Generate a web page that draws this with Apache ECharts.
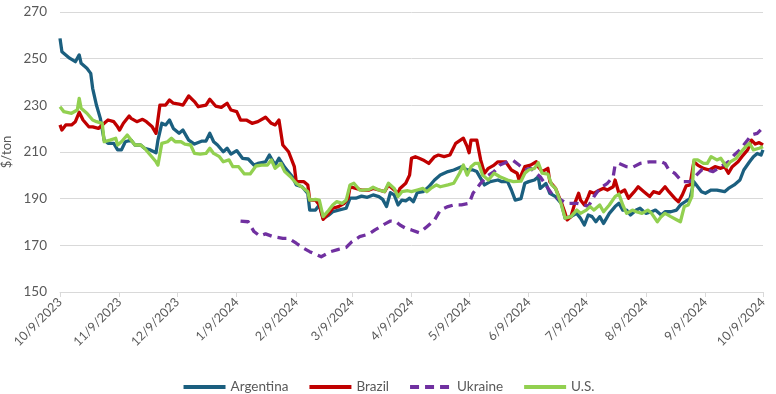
<!DOCTYPE html>
<html>
<head>
<meta charset="utf-8">
<script src="https://cdn.jsdelivr.net/npm/echarts@6/dist/echarts.min.js"></script>
<style>
html,body{margin:0;padding:0;background:#fff;}
#chart{width:776px;height:394px;}
</style>
</head>
<body>
<div id="chart"></div>
<script>
const tickDates = ['2023-10-09','2023-11-09','2023-12-09','2024-01-09','2024-02-09','2024-03-09','2024-04-09','2024-05-09','2024-06-09','2024-07-09','2024-08-09','2024-09-09','2024-10-09'];
const seriesNames = ['Argentina','Brazil','Ukraine','U.S.'];

const argentinaDates = ['2023-10-09','2023-10-10','2023-10-12','2023-10-14','2023-10-17','2023-10-19','2023-10-20','2023-10-23','2023-10-25','2023-10-26','2023-10-28','2023-10-30','2023-11-01','2023-11-03','2023-11-06','2023-11-08','2023-11-10','2023-11-12','2023-11-15','2023-11-17','2023-11-20','2023-11-22','2023-11-25','2023-11-28','2023-11-29','2023-12-01','2023-12-03','2023-12-05','2023-12-07','2023-12-10','2023-12-12','2023-12-15','2023-12-18','2023-12-22','2023-12-24','2023-12-26','2023-12-28','2023-12-30','2024-01-02','2024-01-04','2024-01-06','2024-01-09','2024-01-12','2024-01-15','2024-01-18','2024-01-20','2024-01-24','2024-01-26','2024-01-29','2024-01-31','2024-02-03','2024-02-07','2024-02-09','2024-02-12','2024-02-15','2024-02-16','2024-02-19','2024-02-21','2024-02-23','2024-02-26','2024-02-28','2024-03-02','2024-03-06','2024-03-08','2024-03-11','2024-03-14','2024-03-17','2024-03-20','2024-03-23','2024-03-25','2024-03-27','2024-03-29','2024-03-31','2024-04-02','2024-04-04','2024-04-06','2024-04-08','2024-04-10','2024-04-12','2024-04-15','2024-04-18','2024-04-21','2024-04-24','2024-04-28','2024-05-01','2024-05-05','2024-05-08','2024-05-11','2024-05-13','2024-05-17','2024-05-20','2024-05-24','2024-05-26','2024-05-29','2024-05-31','2024-06-02','2024-06-05','2024-06-07','2024-06-09','2024-06-12','2024-06-14','2024-06-15','2024-06-18','2024-06-20','2024-06-23','2024-06-26','2024-06-28','2024-07-01','2024-07-04','2024-07-06','2024-07-08','2024-07-10','2024-07-12','2024-07-14','2024-07-16','2024-07-18','2024-07-21','2024-07-24','2024-07-26','2024-07-28','2024-07-30','2024-08-01','2024-08-04','2024-08-06','2024-08-09','2024-08-12','2024-08-14','2024-08-17','2024-08-19','2024-08-22','2024-08-25','2024-08-27','2024-08-30','2024-09-01','2024-09-03','2024-09-07','2024-09-09','2024-09-12','2024-09-15','2024-09-19','2024-09-21','2024-09-22','2024-09-24','2024-09-27','2024-09-29','2024-10-02','2024-10-04','2024-10-06','2024-10-08','2024-10-09'];
const argentinaValues = [258.7,253,251.6,250.2,248.7,251.6,248,245.9,243.7,237.3,230,224.4,215.1,213.7,213.7,210.9,210.9,214.4,215.1,213,213,211.6,210.9,209.7,215.1,222.3,221.6,223.7,220.1,218,219.4,215.1,213.4,214.7,214.7,218,214.4,213,210.1,211.6,209.1,210.6,207.3,207,204.4,205.1,205.8,208.7,204.4,207.3,203.4,199.4,195.9,195.1,192.3,185.1,185.1,187.3,181.6,183,184.4,185.1,185.9,190.2,190.2,191.1,190.6,191.6,190.9,189.7,186.6,192.6,191.6,187.3,189.4,189.1,190.2,188.7,192.6,193,195.1,198,200.1,201.6,202.3,203.7,202.3,202.3,201.6,195.9,197.3,198,197.3,197.3,193.7,189.4,190,196.6,197.3,198,199.4,194.4,196.5,192.3,190.9,188,181.6,182.3,183.7,181.6,178.7,183,182.3,180.1,182.3,179.4,183.7,186.6,188,185.1,185.1,183,185.1,185.9,183.7,184.4,185.1,183,184.4,184.4,185.1,187.3,189,190,197.3,193,192.3,193.7,193.7,193,194.4,193.7,195.9,198,202.3,205.8,208,209.4,208.7,210.9];

const brazilDates = ['2023-10-09','2023-10-10','2023-10-12','2023-10-15','2023-10-17','2023-10-19','2023-10-21','2023-10-24','2023-10-26','2023-10-29','2023-11-01','2023-11-03','2023-11-06','2023-11-08','2023-11-09','2023-11-11','2023-11-14','2023-11-15','2023-11-18','2023-11-21','2023-11-23','2023-11-26','2023-11-28','2023-11-30','2023-12-03','2023-12-05','2023-12-07','2023-12-10','2023-12-12','2023-12-15','2023-12-18','2023-12-20','2023-12-24','2023-12-26','2023-12-29','2024-01-01','2024-01-04','2024-01-06','2024-01-09','2024-01-11','2024-01-14','2024-01-17','2024-01-20','2024-01-24','2024-01-27','2024-01-29','2024-01-31','2024-02-02','2024-02-05','2024-02-08','2024-02-09','2024-02-13','2024-02-15','2024-02-16','2024-02-19','2024-02-21','2024-02-23','2024-02-26','2024-02-28','2024-03-02','2024-03-05','2024-03-07','2024-03-08','2024-03-11','2024-03-14','2024-03-18','2024-03-20','2024-03-23','2024-03-26','2024-03-28','2024-03-31','2024-04-02','2024-04-03','2024-04-06','2024-04-08','2024-04-09','2024-04-11','2024-04-13','2024-04-15','2024-04-18','2024-04-21','2024-04-23','2024-04-26','2024-04-29','2024-05-02','2024-05-06','2024-05-08','2024-05-09','2024-05-10','2024-05-13','2024-05-15','2024-05-17','2024-05-19','2024-05-22','2024-05-24','2024-05-28','2024-05-31','2024-06-03','2024-06-04','2024-06-07','2024-06-08','2024-06-10','2024-06-13','2024-06-14','2024-06-16','2024-06-19','2024-06-20','2024-06-23','2024-06-26','2024-06-28','2024-06-29','2024-07-01','2024-07-03','2024-07-05','2024-07-06','2024-07-08','2024-07-10','2024-07-11','2024-07-13','2024-07-16','2024-07-18','2024-07-20','2024-07-23','2024-07-24','2024-07-26','2024-07-29','2024-07-31','2024-08-03','2024-08-05','2024-08-08','2024-08-11','2024-08-13','2024-08-16','2024-08-19','2024-08-21','2024-08-24','2024-08-26','2024-08-28','2024-08-30','2024-09-01','2024-09-03','2024-09-05','2024-09-08','2024-09-11','2024-09-14','2024-09-17','2024-09-19','2024-09-21','2024-09-23','2024-09-26','2024-09-28','2024-10-01','2024-10-03','2024-10-05','2024-10-07','2024-10-09'];
const brazilValues = [221.6,219.4,221.6,221.6,223,227,223.7,220.8,220.8,220.1,222.3,223.7,223,220.8,219.4,222.3,225.4,224.4,223,224,223,220.8,218,230.1,230.1,232.3,230.9,230.5,230.1,234,231.6,229.4,230.1,232.6,229.7,229.1,230.9,228,227.3,223.7,223.7,222.3,223,224.9,222.3,221.6,223.7,213,210.1,203.7,197.3,197.3,195.9,189.4,189.4,187.3,181.1,183.7,185.9,186.6,188,190.2,195.1,194.4,193.7,193.7,194.4,193.7,193,195.9,193.7,192.3,194.4,196.6,200.1,207.3,208,207.3,206.6,205.1,208,208.7,208,208.7,213.7,215.9,212.3,209.7,215.1,215.1,206.6,200.9,203,204.4,205.8,205.8,202.3,200.9,198,203.7,204.4,204.4,205.8,203.7,201.6,203,197.3,194.4,188.3,183.7,180.9,182.3,188,192.3,189.4,187.3,190.9,193,192.3,193.7,194.5,193.7,195.1,198,192.3,193.7,190.2,193,195.1,193,190.9,193,192.3,195.1,193,190.2,188.7,191.6,195.5,195.9,205.8,204.4,203,202.3,203.7,203,203.7,200.9,203.7,205.8,208,210.9,215.1,213.4,214,213];

const ukraineDates = ['2024-01-11','2024-01-15','2024-01-18','2024-01-21','2024-01-24','2024-01-28','2024-02-02','2024-02-05','2024-02-09','2024-02-12','2024-02-16','2024-02-22','2024-02-27','2024-03-02','2024-03-06','2024-03-09','2024-03-13','2024-03-18','2024-03-21','2024-03-26','2024-03-29','2024-04-01','2024-04-03','2024-04-06','2024-04-09','2024-04-13','2024-04-15','2024-04-17','2024-04-21','2024-04-24','2024-04-28','2024-05-01','2024-05-05','2024-05-09','2024-05-11','2024-05-15','2024-05-18','2024-05-22','2024-05-25','2024-05-29','2024-06-01','2024-06-04','2024-06-07','2024-06-10','2024-06-15','2024-06-19','2024-06-22','2024-06-26','2024-06-29','2024-07-04','2024-07-08','2024-07-10','2024-07-13','2024-07-16','2024-07-20','2024-07-23','2024-07-24','2024-07-26','2024-07-30','2024-08-02','2024-08-06','2024-08-11','2024-08-17','2024-08-19','2024-08-21','2024-08-24','2024-08-28','2024-09-01','2024-09-07','2024-09-10','2024-09-13','2024-09-17','2024-09-21','2024-09-24','2024-09-27','2024-10-01','2024-10-03','2024-10-06','2024-10-09'];
const ukraineValues = [180.4,180.1,175.9,174,174.9,173.7,173,173,170.9,169.1,167.3,165.1,167.3,168.3,169.1,171.6,173.7,174.9,176.6,179.1,180.4,180.1,178.7,177.3,176.6,175.4,176.6,178,180.9,185.1,186.6,187.3,187.3,188,192.3,196.6,199.4,201.6,204.4,205.8,206.3,204.4,202.3,203,199.4,194.5,190.9,189.4,188,188,187.3,186.6,190.9,194.4,196.6,199.4,204.4,205.1,203.7,203.4,205.1,205.8,205.8,205.1,202.3,200.9,197.3,197.3,202.3,202.3,201.6,203.7,205.8,208.7,210.9,215.1,217.3,218,220.5];

const usDates = ['2023-10-09','2023-10-11','2023-10-12','2023-10-15','2023-10-18','2023-10-19','2023-10-20','2023-10-23','2023-10-26','2023-10-28','2023-10-31','2023-11-01','2023-11-04','2023-11-07','2023-11-08','2023-11-10','2023-11-13','2023-11-15','2023-11-17','2023-11-20','2023-11-22','2023-11-25','2023-11-28','2023-11-29','2023-12-01','2023-12-04','2023-12-06','2023-12-08','2023-12-11','2023-12-13','2023-12-16','2023-12-18','2023-12-21','2023-12-24','2023-12-26','2023-12-28','2023-12-31','2024-01-02','2024-01-05','2024-01-07','2024-01-10','2024-01-13','2024-01-16','2024-01-19','2024-01-22','2024-01-25','2024-01-27','2024-01-29','2024-02-01','2024-02-03','2024-02-06','2024-02-09','2024-02-12','2024-02-15','2024-02-16','2024-02-19','2024-02-21','2024-02-23','2024-02-26','2024-02-28','2024-03-01','2024-03-04','2024-03-06','2024-03-08','2024-03-10','2024-03-13','2024-03-15','2024-03-18','2024-03-20','2024-03-23','2024-03-26','2024-03-28','2024-03-31','2024-04-02','2024-04-04','2024-04-07','2024-04-09','2024-04-12','2024-04-15','2024-04-17','2024-04-19','2024-04-22','2024-04-24','2024-04-28','2024-05-01','2024-05-04','2024-05-06','2024-05-08','2024-05-10','2024-05-12','2024-05-14','2024-05-16','2024-05-19','2024-05-22','2024-05-25','2024-05-29','2024-06-01','2024-06-05','2024-06-07','2024-06-09','2024-06-12','2024-06-14','2024-06-16','2024-06-19','2024-06-21','2024-06-23','2024-06-26','2024-06-28','2024-07-01','2024-07-04','2024-07-06','2024-07-09','2024-07-11','2024-07-13','2024-07-16','2024-07-18','2024-07-21','2024-07-24','2024-07-26','2024-07-28','2024-07-30','2024-08-02','2024-08-04','2024-08-07','2024-08-10','2024-08-12','2024-08-15','2024-08-17','2024-08-19','2024-08-22','2024-08-25','2024-08-27','2024-08-29','2024-08-31','2024-09-02','2024-09-03','2024-09-05','2024-09-08','2024-09-10','2024-09-12','2024-09-15','2024-09-17','2024-09-20','2024-09-22','2024-09-25','2024-09-27','2024-09-30','2024-10-02','2024-10-04','2024-10-07','2024-10-09'];
const usValues = [229.4,227.3,228,226.6,228,233,228.7,226.6,223.7,223,222.3,214.4,215.1,215.9,213,214.4,217.3,215.1,213,213,211.6,208.7,205.8,204.4,213.7,214.4,215.9,214.4,214.4,213.4,213,209.4,209.1,209.4,211.6,209.4,208,205.8,206.6,203.7,203.7,200.6,200.6,204,204.4,204.4,206.6,203,205.1,201.6,199.4,196.6,194.9,193,189.4,189.7,189.4,182.3,185.1,187.3,188.7,188,189.4,195.9,196.6,193.7,193.7,194,194.9,193.7,193,196.6,194.4,190.9,193,193.4,193,193.7,194.4,193,194.4,195.9,195.1,195.9,196.6,200.9,204.4,200.1,203.7,205.1,205.1,200.1,198,200.9,199.4,198,197.3,197.5,200.9,202.3,203,205.4,200.9,200.5,195.9,194.4,187.5,181.6,182.3,185.1,183.7,185.1,186.6,185.1,187.3,184.4,187.3,190.9,192,187.3,183.7,185.1,184.4,183.7,185.1,183.7,180.1,182.3,183.7,182.3,181,180.1,186.6,187.3,191,206.6,206.6,205.1,205.1,208,206.6,207.3,203.7,205.8,207.3,209.4,212.3,213.7,210.9,211.6,212.3];

const colors = ['#1B5F7F','#C00000','#7030A0','#92D050'];
const toTime = s => { const p = s.split('-'); return Date.UTC(+p[0], +p[1]-1, +p[2]); };
const pair = (ds, vs) => ds.map((d, i) => [toTime(d), vs[i]]);
const tickTimes = tickDates.map(toTime);
const fmtDate = v => { const d = new Date(v); return (d.getUTCMonth()+1) + '/' + d.getUTCDate() + '/' + d.getUTCFullYear(); };

const chart = echarts.init(document.getElementById('chart'), null, {renderer:'canvas'});
const font = 'Lato, "Open Sans", sans-serif';
const lineSeries = (name, data, color, dashed) => ({
  name, type:'line', data, symbol:'none', showSymbol:false, smooth:false,
  lineStyle:{color, width:3.3, type: dashed ? [9,6] : 'solid', cap:'butt', join:'round'},
  itemStyle:{color}, emphasis:{disabled:true}
});
chart.setOption({
  animation:false,
  textStyle:{fontFamily:font},
  color: colors,
  grid:{left:60, right:13, top:12, bottom:102, containLabel:false, outerBoundsMode:'none'},
  legend:{
    data: seriesNames, top:375, left:'center', itemWidth:42, itemHeight:14, itemGap:19,
    itemStyle:{opacity:0},
    lineStyle:{width:4},
    textStyle:{color:'#595959', fontSize:13.5, fontFamily:font}
  },
  xAxis:{
    type:'value', min: tickTimes[0], max: tickTimes[tickTimes.length-1],
    axisLine:{show:true, lineStyle:{color:'#D9D9D9', width:1}},
    axisTick:{show:true, length:5, lineStyle:{color:'#D9D9D9'}, customValues: tickTimes},
    splitLine:{show:false},
    axisLabel:{
      customValues: tickTimes, rotate:45, margin:8, color:'#595959', fontSize:12.5, fontFamily:font,
      formatter: fmtDate, showMinLabel:true, showMaxLabel:true, hideOverlap:false
    }
  },
  yAxis:{
    type:'value', min:150, max:270, interval:20,
    name:'$/ton', nameLocation:'middle', nameGap:47, nameRotate:90, nameMoveOverlap:false,
    nameTextStyle:{color:'#595959', fontSize:13, fontFamily:font},
    axisLine:{show:false}, axisTick:{show:false},
    splitLine:{lineStyle:{color:'#D9D9D9', width:1}},
    axisLabel:{color:'#595959', fontSize:13.5, margin:13, fontFamily:font}
  },
  series:[
    lineSeries('Argentina', pair(argentinaDates, argentinaValues), colors[0], false),
    lineSeries('Brazil', pair(brazilDates, brazilValues), colors[1], false),
    lineSeries('Ukraine', pair(ukraineDates, ukraineValues), colors[2], true),
    lineSeries('U.S.', pair(usDates, usValues), colors[3], false)
  ]
});
</script>
</body>
</html>
